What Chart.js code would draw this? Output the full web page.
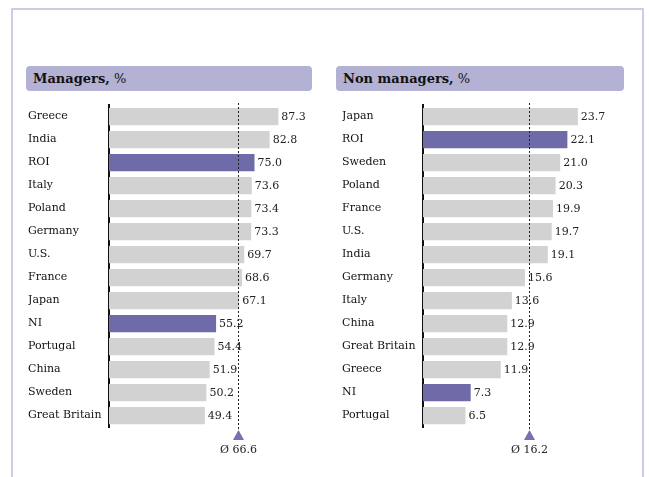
<!DOCTYPE html>
<html>
<head>
<meta charset="utf-8">
<script src="https://cdn.jsdelivr.net/npm/chart.js@4/dist/chart.umd.min.js"></script>
<style>
  html, body { margin: 0; padding: 0; background: #fff; width: 649px; height: 477px; overflow: hidden; }
  .frame { position: absolute; left: 11px; top: 8px; width: 629px; height: 480px; border: 2px solid #cdcbe6; }
  .head { position: absolute; top: 66px; height: 25px; background: #b3b1d4; border-radius: 4px;
          font: 13px "DejaVu Serif", serif; color: #111; line-height: 25px; padding-left: 7px; box-sizing: border-box; }
  .head b { font-weight: bold; }
  canvas { position: absolute; }
</style>
</head>
<body>
<div class="frame"></div>
<div class="head" style="left:26px;width:286px"><b>Managers,</b> %</div>
<div class="head" style="left:336px;width:288px"><b>Non managers,</b> %</div>
<canvas id="managersChart" style="left:28px;top:97px" width="300" height="370"></canvas>
<canvas id="nonManagersChart" style="left:342px;top:97px" width="302" height="370"></canvas>
<script>
const managersLabels = ['Greece', 'India', 'ROI', 'Italy', 'Poland', 'Germany', 'U.S.', 'France', 'Japan', 'NI', 'Portugal', 'China', 'Sweden', 'Great Britain'];
const managersValues = [87.3, 82.8, 75.0, 73.6, 73.4, 73.3, 69.7, 68.6, 67.1, 55.2, 54.4, 51.9, 50.2, 49.4];
const managersAvg = 66.6;

const nonManagersLabels = ['Japan', 'ROI', 'Sweden', 'Poland', 'France', 'U.S.', 'India', 'Germany', 'Italy', 'China', 'Great Britain', 'Greece', 'NI', 'Portugal'];
const nonManagersValues = [23.7, 22.1, 21.0, 20.3, 19.9, 19.7, 19.1, 15.6, 13.6, 12.9, 12.9, 11.9, 7.3, 6.5];
const nonManagersAvg = 16.2;

const highlighted = ['ROI', 'NI'];

const FONT = '"DejaVu Serif", serif';
const GREY = '#d2d2d2';
const PURPLE = '#6f6ba8';

// value labels at the bar ends + dashed average line with a marker below
const annotate = {
    id: 'annotate',
    afterDatasetsDraw(chart, args, opts) {
        const ctx = chart.ctx;
        const meta = chart.getDatasetMeta(0);
        const x = chart.scales.x;
        const area = chart.chartArea;
        ctx.save();
        ctx.font = '11px ' + FONT;
        ctx.fillStyle = '#222';
        ctx.textBaseline = 'middle';
        ctx.textAlign = 'left';
        meta.data.forEach((bar, i) => {
            const v = chart.data.datasets[0].data[i];
            ctx.fillText(v.toFixed(1), bar.x + 3, bar.y + 1);
        });

        const ax = Math.round(x.getPixelForValue(opts.avg)) + 0.5;
        ctx.strokeStyle = '#222';
        ctx.lineWidth = 1;
        ctx.setLineDash([2, 2]);
        ctx.beginPath();
        ctx.moveTo(ax, area.top - 2);
        ctx.lineTo(ax, area.bottom + 3);
        ctx.stroke();
        ctx.setLineDash([]);

        const ty = area.bottom + 3;
        ctx.fillStyle = '#7571b1';
        ctx.beginPath();
        ctx.moveTo(ax, ty);
        ctx.lineTo(ax - 5.5, ty + 10);
        ctx.lineTo(ax + 5.5, ty + 10);
        ctx.closePath();
        ctx.fill();

        ctx.fillStyle = '#222';
        ctx.textAlign = 'center';
        ctx.fillText('Ø ' + opts.avg.toFixed(1), ax, ty + 20);
        ctx.restore();
    }
};

function makeChart(id, labels, values, max, avg) {
    return new Chart(document.getElementById(id).getContext('2d'), {
        type: 'bar',
        data: {
            labels: labels,
            datasets: [{
                data: values,
                backgroundColor: labels.map(l => highlighted.includes(l) ? PURPLE : GREY),
                borderWidth: 0,
                barPercentage: 0.75,
                categoryPercentage: 1
            }]
        },
        options: {
            indexAxis: 'y',
            responsive: false,
            animation: false,
            layout: { padding: { top: 8, right: 25, bottom: 40, left: 0 } },
            plugins: {
                legend: { display: false },
                tooltip: { enabled: false },
                annotate: { avg: avg }
            },
            scales: {
                x: { display: false, min: 0, max: max },
                y: {
                    afterFit: s => { s.width = 81; },
                    grid: { display: false, drawTicks: false },
                    border: { display: true, color: '#111', width: 2 },
                    ticks: {
                        crossAlign: 'far',
                        padding: 0,
                        color: '#111',
                        font: { family: FONT, size: 11 }
                    }
                }
            }
        },
        plugins: [annotate]
    });
}

makeChart('managersChart', managersLabels, managersValues, 100, managersAvg);
makeChart('nonManagersChart', nonManagersLabels, nonManagersValues, 30, nonManagersAvg);
</script>
</body>
</html>
